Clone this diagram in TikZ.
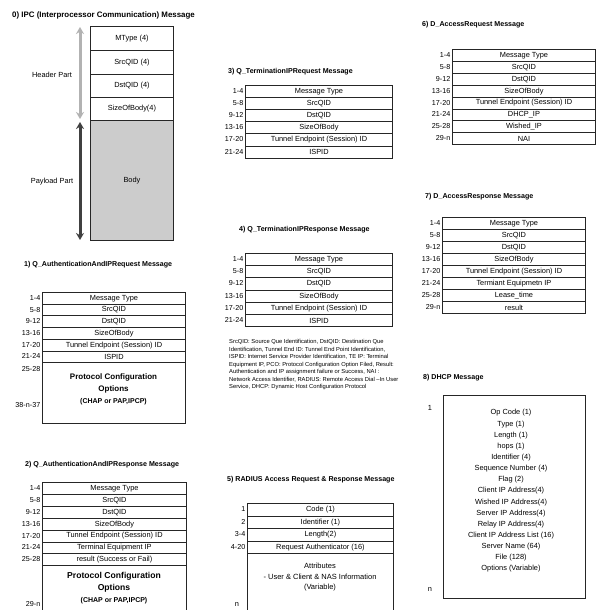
\documentclass[tikz,border=0pt]{standalone}
\usepackage{fontspec}
\setmainfont{Liberation Sans}
\usetikzlibrary{arrows.meta}
\newcommand{\msgtab}[6]{%
  \foreach [count=\i] \lb/\tx in {#6} {
    \node[cell, minimum width=#4pt, minimum height=#5pt] (#1r\i) at (#2, {#3+(\i-1)*#5}) {\tx};
    \node[lab] (#1l\i) at (#2-1.5, {#3+(\i-1)*#5+#5/2}) {\lb};
  }%
}
\begin{document}
\begin{tikzpicture}[x=1pt,y=-1pt,
  cell/.style={draw=black!85, line width=0.9pt, anchor=north west, inner sep=0pt, font=\fontsize{7.4}{8}\selectfont},
  bigbox/.style={draw=black!85, line width=0.9pt, anchor=north west, inner sep=0pt},
  lab/.style={anchor=east, inner sep=0pt, font=\fontsize{7.2}{8}\selectfont},
  plain/.style={inner sep=0pt, font=\fontsize{7.4}{8}\selectfont},
  ttl/.style={anchor=west, inner sep=0pt, font=\bfseries\fontsize{7.1}{8}\selectfont},
  pco/.style={inner sep=0pt, align=center, font=\bfseries},
  dblarrow/.style={{Stealth[length=7pt,width=8pt]}-{Stealth[length=7pt,width=8pt]}, line width=3pt}
]
\clip (0,0) rectangle (600,610);
\fill[white] (0,0) rectangle (600,610);

% ---------- 0) IPC message ----------
\node[ttl, font=\bfseries\fontsize{7.9}{9}\selectfont] (t0) at (12,15) {0) IPC (Interprocessor Communication) Message};
\node[cell, minimum width=83pt, minimum height=24pt] (p0a) at (90,26) {MType (4)};
\node[cell, minimum width=83pt, minimum height=23.5pt] (p0b) at (90,50) {SrcQID (4)};
\node[cell, minimum width=83pt, minimum height=23.5pt] (p0c) at (90,73.5) {DstQID (4)};
\node[cell, minimum width=83pt, minimum height=23pt] (p0d) at (90,97) {SizeOfBody(4)};
\node[cell, fill=gray!40, minimum width=83pt, minimum height=120pt] (p0e) at (90,120) {Body};
\coordinate (hTop) at (80,27);
\coordinate (hBot) at (80,119);
\coordinate (pTop) at (80,122);
\coordinate (pBot) at (80,240);
\draw[dblarrow, draw=gray!60] (hTop) -- (hBot);
\draw[dblarrow, draw=black!75] (pTop) -- (pBot);
\node[plain] (hp) at (52,75) {Header Part};
\node[plain] (pp) at (52,182) {Payload Part};

% ---------- 1) ----------
\node[ttl] (t1) at (24,265) {1) Q\_AuthenticationAndIPRequest Message};
\msgtab{p1}{42}{292}{143}{11.7}{1-4/Message Type, 5-8/SrcQID, 9-12/DstQID, 13-16/SizeOfBody, 17-20/Tunnel Endpoint (Session) ID, 21-24/ISPID}
\node[bigbox, minimum width=143pt, minimum height=61pt] (p1big) at (42,362.2) {};
\node[lab] (p1l7) at (40.5,369) {25-28};
\node[lab] (p1l8) at (40.5,405) {38-n-37};
\node[pco] (p1txt) at (113.5,389) {{\fontsize{8}{11.5}\selectfont Protocol Configuration}\\{\fontsize{8}{11}\selectfont Options}\\{\fontsize{7}{9}\selectfont (CHAP or PAP,IPCP)}};

% ---------- 2) ----------
\node[ttl] (t2) at (25,465) {2) Q\_AuthenticationAndIPResponse Message};
\msgtab{p2}{42}{482}{144}{11.9}{1-4/Message Type, 5-8/SrcQID, 9-12/DstQID, 13-16/SizeOfBody, 17-20/Tunnel Endpoint (Session) ID, 21-24/Terminal Equipment IP, 25-28/result (Success or Fail)}
\node[bigbox, minimum width=144pt, minimum height=60pt] (p2big) at (42,565.3) {};
\node[lab] (p2l8) at (40.5,604.5) {29-n};
\node[pco] (p2txt) at (114,588.5) {{\fontsize{8.6}{11.5}\selectfont Protocol Configuration}\\{\fontsize{8.6}{11.5}\selectfont Options}\\{\fontsize{7}{9}\selectfont (CHAP or PAP,IPCP)}};

% ---------- 3) ----------
\node[ttl] (t3) at (228,72) {3) Q\_TerminationIPRequest Message};
\msgtab{p3}{245}{85}{147}{12.1}{1-4/Message Type, 5-8/SrcQID, 9-12/DstQID, 13-16/SizeOfBody, 17-20/Tunnel Endpoint (Session) ID, 21-24/ISPID}

% ---------- 4) ----------
\node[ttl] (t4) at (239,230) {4) Q\_TerminationIPResponse Message};
\msgtab{p4}{245}{253}{147}{12.2}{1-4/Message Type, 5-8/SrcQID, 9-12/DstQID, 13-16/SizeOfBody, 17-20/Tunnel Endpoint (Session) ID, 21-24/ISPID}
\node[anchor=north west, inner sep=0pt, align=left, font=\fontsize{5.8}{7.5}\selectfont] (cap) at (229,339.5) {SrcQID: Source Que Identification, DstQID: Destination Que\\Identification, Tunnel End ID: Tunnel End Point Identification,\\ISPID: Internet Service Provider Identification, TE IP: Terminal\\Equipment IP, PCO: Protocol Configuration Option Filed, Result:\\Authentication and IP assignment failure or Success, NAI :\\Network Access Identifier, RADIUS: Remote Access Dial --In User\\Service, DHCP: Dynamic Host Configuration Protocol};

% ---------- 5) ----------
\node[ttl] (t5) at (227,480) {5) RADIUS Access Request \& Response Message};
\msgtab{p5}{247}{503}{146}{12.5}{1/Code (1), 2/Identifier (1), 3-4/Length(2), 4-20/Request Authenticator (16)}
\node[bigbox, minimum width=146pt, minimum height=70pt] (p5big) at (247,553) {};
\node[plain] (p5n) at (237,605) {n};
\node[plain, align=center, font=\fontsize{7.5}{10.5}\selectfont] (p5txt) at (320,577.5) {Attributes\\- User \& Client \& NAS Information\\(Variable)};

% ---------- 6) ----------
\node[ttl] (t6) at (422,25) {6) D\_AccessRequest Message};
\msgtab{p6}{452}{49}{143}{11.9}{1-4/Message Type, 5-8/SrcQID, 9-12/DstQID, 13-16/SizeOfBody, 17-20/Tunnel Endpoint (Session) ID, 21-24/DHCP\_IP, 25-28/Wished\_IP, 29-n/NAI}

% ---------- 7) ----------
\node[ttl] (t7) at (425,197) {7) D\_AccessResponse Message};
\msgtab{p7}{442}{217}{143}{12}{1-4/Message Type, 5-8/SrcQID, 9-12/DstQID, 13-16/SizeOfBody, 17-20/Tunnel Endpoint (Session) ID, 21-24/Termiant Equipmetn IP, 25-28/Lease\_time, 29-n/result}

% ---------- 8) DHCP ----------
\node[ttl] (t8) at (423,378) {8) DHCP Message};
\node[bigbox, minimum width=142pt, minimum height=203pt] (p8box) at (443,395) {};
\node[plain] (p8one) at (430,408) {1};
\node[plain] (p8n) at (430,590) {n};
\foreach [count=\i] \tx in {Op Code (1), Type (1), Length (1), hops (1), Identifier (4), Sequence Number (4), Flag (2), Client IP Address(4), Wished IP Address(4), Server IP Address(4), Relay IP Address(4), Client IP Address List (16), Server Name (64), File (128), Options (Variable)} {
  \node[plain] (p8t\i) at (511, {413+(\i-1)*11.14}) {\tx};
}
\end{tikzpicture}
\end{document}
